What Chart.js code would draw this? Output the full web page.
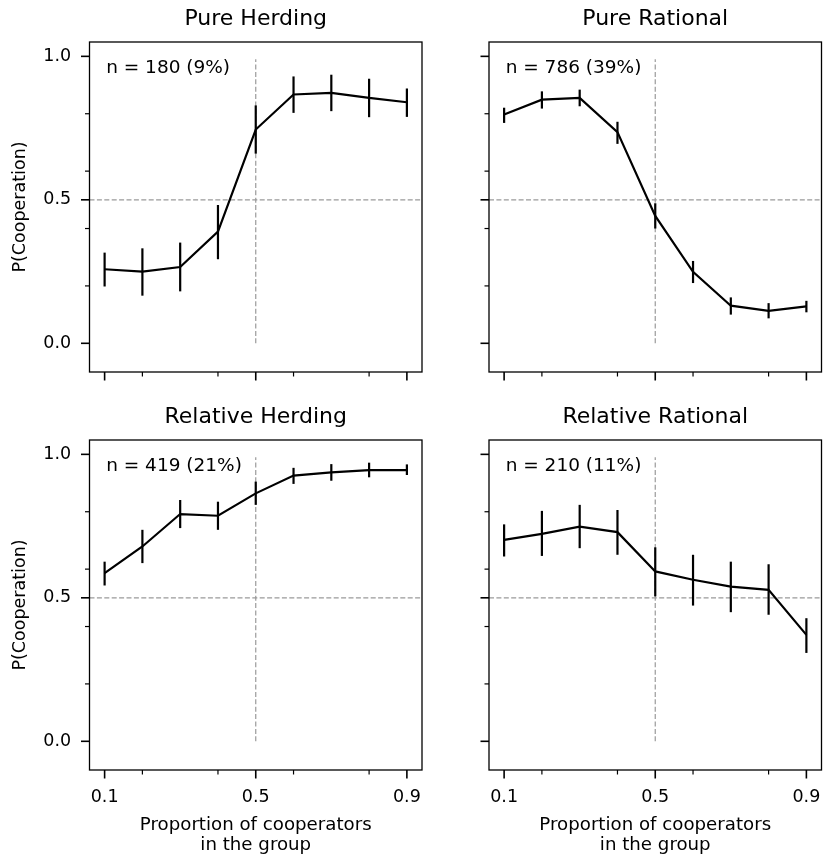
<!DOCTYPE html>
<html>
<head>
<meta charset="utf-8">
<script src="https://cdn.jsdelivr.net/npm/chart.js@4/dist/chart.umd.min.js"></script>
<style>
  html, body { margin: 0; padding: 0; background: #fff; }
  #wrap { position: relative; width: 823px; height: 856px; }
  #wrap canvas { position: absolute; left: 0; top: 0; }
</style>
</head>
<body>
<div id="wrap">
  <canvas id="c0" width="823" height="856"></canvas>
  <canvas id="c1" width="823" height="856"></canvas>
  <canvas id="c2" width="823" height="856"></canvas>
  <canvas id="c3" width="823" height="856"></canvas>
</div>
<script>
// ---------------- data ----------------
const proportions = [0.1, 0.2, 0.3, 0.4, 0.5, 0.6, 0.7, 0.8, 0.9];

const panelTitles = ["Pure Herding", "Pure Rational", "Relative Herding", "Relative Rational"];
const panelCounts = ["n = 180 (9%)", "n = 786 (39%)", "n = 419 (21%)", "n = 210 (11%)"];

const pureHerdingMean = [0.258, 0.250, 0.266, 0.389, 0.745, 0.867, 0.873, 0.855, 0.840];
const pureHerdingLow  = [0.198, 0.166, 0.181, 0.293, 0.661, 0.803, 0.809, 0.788, 0.789];
const pureHerdingHigh = [0.316, 0.331, 0.351, 0.482, 0.829, 0.930, 0.936, 0.922, 0.888];

const pureRationalMean = [0.797, 0.849, 0.855, 0.736, 0.444, 0.249, 0.131, 0.113, 0.129];
const pureRationalLow  = [0.768, 0.818, 0.826, 0.695, 0.400, 0.210, 0.100, 0.087, 0.108];
const pureRationalHigh = [0.821, 0.878, 0.884, 0.772, 0.488, 0.287, 0.160, 0.140, 0.148];

const relHerdingMean = [0.586, 0.679, 0.792, 0.786, 0.864, 0.926, 0.937, 0.945, 0.945];
const relHerdingLow  = [0.543, 0.621, 0.743, 0.737, 0.824, 0.897, 0.908, 0.920, 0.928];
const relHerdingHigh = [0.626, 0.737, 0.841, 0.835, 0.905, 0.953, 0.966, 0.971, 0.965];

const relRationalMean = [0.702, 0.723, 0.748, 0.729, 0.592, 0.563, 0.539, 0.528, 0.371];
const relRationalLow  = [0.644, 0.646, 0.673, 0.650, 0.505, 0.473, 0.450, 0.441, 0.308];
const relRationalHigh = [0.756, 0.803, 0.824, 0.806, 0.676, 0.650, 0.626, 0.617, 0.429];

const xMajorTicks = [0.1, 0.5, 0.9];
const xMinorTicks = [0.2, 0.4, 0.6, 0.8];
const yMajorTicks = [0.0, 0.5, 1.0];
const yMinorTicks = [0.2, 0.4, 0.6, 0.8];
const yTickLabels = ["0.0", "0.5", "1.0"];
const xTickLabels = ["0.1", "0.5", "0.9"];

const refLineY = 0.5;          // horizontal reference
const refLineX = 0.5;          // vertical reference
const refLineXSpan = [0.0, 0.99];

const yAxisTitle = "P(Cooperation)";
const xAxisTitle = ["Proportion of cooperators", "in the group"];

// ---------------- drawing ----------------
const FONT = "'DejaVu Sans', 'Liberation Sans', sans-serif";

const panelSeries = [
  [pureHerdingMean, pureHerdingLow, pureHerdingHigh],
  [pureRationalMean, pureRationalLow, pureRationalHigh],
  [relHerdingMean, relHerdingLow, relHerdingHigh],
  [relRationalMean, relRationalLow, relRationalHigh]
];

const decorPlugin = {
  id: 'decor',
  beforeDatasetsDraw(chart) {
    const {ctx, chartArea: a, scales: {x, y}} = chart;
    ctx.save();
    ctx.strokeStyle = '#9a9a9a';
    ctx.lineWidth = 1.2;
    ctx.setLineDash([5, 2.4]);
    const py = y.getPixelForValue(refLineY);
    ctx.beginPath(); ctx.moveTo(a.left, py); ctx.lineTo(a.right, py); ctx.stroke();
    const px = x.getPixelForValue(refLineX);
    ctx.beginPath();
    ctx.moveTo(px, y.getPixelForValue(refLineXSpan[0]));
    ctx.lineTo(px, y.getPixelForValue(refLineXSpan[1]));
    ctx.stroke();
    ctx.restore();
  },
  afterDatasetsDraw(chart, args, opts) {
    const {ctx, chartArea: a, scales: {x, y}} = chart;
    const [mean, low, high] = opts.series;
    ctx.save();
    ctx.strokeStyle = '#000';
    ctx.lineWidth = 2.2;
    ctx.lineCap = 'butt';
    proportions.forEach((p, i) => {
      const px = x.getPixelForValue(p);
      ctx.beginPath();
      ctx.moveTo(px, y.getPixelForValue(low[i]));
      ctx.lineTo(px, y.getPixelForValue(high[i]));
      ctx.stroke();
    });
    // spines
    ctx.lineWidth = 1.3;
    ctx.strokeRect(a.left, a.top, a.right - a.left, a.bottom - a.top);
    // ticks
    const tick = (x1, y1, x2, y2, w) => {
      ctx.lineWidth = w; ctx.beginPath(); ctx.moveTo(x1, y1); ctx.lineTo(x2, y2); ctx.stroke();
    };
    xMajorTicks.forEach(v => { const px = x.getPixelForValue(v); tick(px, a.bottom, px, a.bottom + 8.5, 1.6); });
    xMinorTicks.forEach(v => { const px = x.getPixelForValue(v); tick(px, a.bottom, px, a.bottom + 4.5, 1.2); });
    yMajorTicks.forEach(v => { const py = y.getPixelForValue(v); tick(a.left - 8.5, py, a.left, py, 1.6); });
    yMinorTicks.forEach(v => { const py = y.getPixelForValue(v); tick(a.left - 4.5, py, a.left, py, 1.2); });
    // count annotation
    ctx.fillStyle = '#000';
    ctx.font = '18.5px ' + FONT;
    ctx.textAlign = 'left';
    ctx.textBaseline = 'alphabetic';
    ctx.fillText(opts.count, a.left + 0.05 * (a.right - a.left), a.top + 31);
    ctx.restore();
  }
};

function makePanel(idx) {
  const col = idx % 2, row = Math.floor(idx / 2);
  const [mean] = panelSeries[idx];
  const left = col === 0;
  const bottom = row === 1;
  const yWidth = left ? 89.5 : 49;
  const xHeight = bottom ? 86 : 10;
  const padding = {
    left: left ? 0 : 440,
    right: left ? 401 : 1.5,
    top: bottom ? 398 : 0,
    bottom: bottom ? 0 : 474
  };
  new Chart(document.getElementById('c' + idx), {
    type: 'line',
    data: {
      datasets: [{
        data: proportions.map((p, i) => ({x: p, y: mean[i]})),
        borderColor: '#000',
        borderWidth: 2.2,
        pointRadius: 0,
        tension: 0,
        fill: false
      }]
    },
    options: {
      responsive: false,
      animation: false,
      devicePixelRatio: 1,
      layout: {padding, autoPadding: false},
      plugins: {
        legend: {display: false},
        tooltip: {enabled: false},
        title: {
          display: true,
          text: panelTitles[idx],
          fullSize: false,
          color: '#000',
          font: {family: FONT, size: 22, weight: 'normal', lineHeight: 1.2},
          padding: {top: 6.2, bottom: 9.4}
        },
        decor: {series: panelSeries[idx], count: panelCounts[idx]}
      },
      scales: {
        x: {
          type: 'linear',
          min: 0.06, max: 0.94,
          grid: {display: false, drawTicks: false},
          border: {display: false},
          afterBuildTicks: s => { s.ticks = xMajorTicks.map(v => ({value: v})); },
          afterFit: s => { s.height = xHeight; s.paddingLeft = 0; s.paddingRight = 0; s.paddingTop = 0; s.paddingBottom = 0; },
          ticks: {
            display: bottom,
            autoSkip: false,
            maxRotation: 0,
            padding: 17,
            color: '#000',
            font: {family: FONT, size: 17.5, lineHeight: 1.2},
            callback: (v) => xTickLabels[xMajorTicks.indexOf(v)]
          },
          title: {
            display: bottom,
            text: xAxisTitle,
            color: '#000',
            font: {family: FONT, size: 18.2, lineHeight: 1.099},
            padding: {top: 0, bottom: 0.9}
          }
        },
        y: {
          type: 'linear',
          min: -0.1, max: 1.05,
          grid: {display: false, drawTicks: false},
          border: {display: false},
          afterBuildTicks: s => { s.ticks = yMajorTicks.map(v => ({value: v})); },
          afterFit: s => { s.width = yWidth; s.paddingLeft = 0; s.paddingRight = 0; s.paddingTop = 0; s.paddingBottom = 0; },
          ticks: {
            display: left,
            autoSkip: false,
            padding: 18.3,
            color: '#000',
            font: {family: FONT, size: 17.5, lineHeight: 1.2},
            callback: (v) => yTickLabels[yMajorTicks.indexOf(v)]
          },
          title: {
            display: left,
            text: yAxisTitle,
            color: '#000',
            font: {family: FONT, size: 17.5, lineHeight: 1.2},
            padding: {top: 9.5, bottom: 0}
          }
        }
      }
    },
    plugins: [decorPlugin]
  });
}

[0, 1, 2, 3].forEach(makePanel);
</script>
</body>
</html>
